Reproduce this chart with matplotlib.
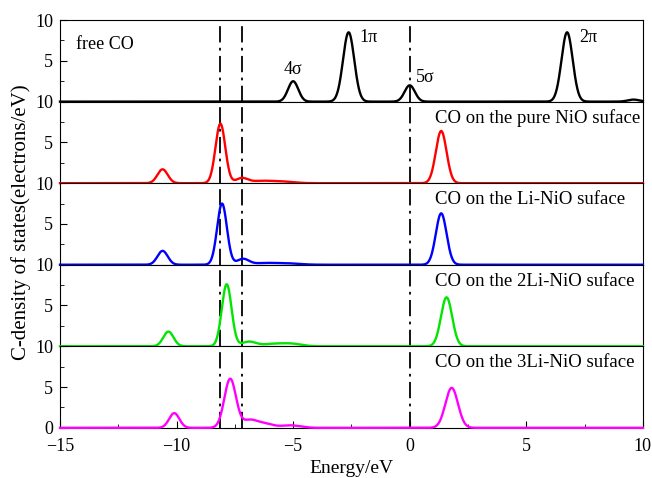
import numpy as np
import matplotlib.pyplot as plt
from matplotlib.ticker import MultipleLocator

plt.rcParams['font.family'] = ['Liberation Serif', 'DejaVu Serif']

# peak positions (eV), heights and widths
free_pos = [-5.0, -2.62, 0.0, 6.75, 9.6]
free_hgt = [2.5, 8.5, 2.0, 8.5, 0.25]
free_wid = [0.22, 0.24, 0.22, 0.24, 0.25]

pure_pos = [-10.6, -8.12, -7.2, -6.4, -5.5, 1.35]
pure_hgt = [1.7, 7.3, 0.6, 0.25, 0.2, 6.4]
pure_wid = [0.22, 0.21, 0.25, 0.45, 0.5, 0.23]

li_pos = [-10.6, -8.05, -7.15, -6.2, -5.2, 1.35]
li_hgt = [1.7, 7.5, 0.7, 0.2, 0.15, 6.3]
li_wid = [0.22, 0.21, 0.25, 0.5, 0.5, 0.23]

li2_pos = [-10.35, -7.85, -6.9, -5.8, -5.0, 1.58]
li2_hgt = [1.8, 7.6, 0.55, 0.3, 0.25, 6.0]
li2_wid = [0.22, 0.21, 0.3, 0.5, 0.4, 0.24]

li3_pos = [-10.1, -7.7, -6.9, -6.3, -5.1, 1.8]
li3_hgt = [1.8, 6.0, 0.8, 0.55, 0.3, 4.9]
li3_wid = [0.22, 0.25, 0.3, 0.4, 0.4, 0.27]

panels = [(free_pos, free_hgt, free_wid, 'black', 'free CO'),
          (pure_pos, pure_hgt, pure_wid, 'red', 'CO on the pure NiO suface'),
          (li_pos, li_hgt, li_wid, 'blue', 'CO on the Li-NiO suface'),
          (li2_pos, li2_hgt, li2_wid, '#00e600', 'CO on the 2Li-NiO suface'),
          (li3_pos, li3_hgt, li3_wid, 'magenta', 'CO on the 3Li-NiO suface')]

vlines = [-8.12, -7.2, 0.0]

E = np.linspace(-15, 10, 2501)


def dos(pos, hgt, wid):
    y = np.zeros_like(E)
    for p, h, w in zip(pos, hgt, wid):
        y += h * np.exp(-0.5 * ((E - p) / w) ** 2)
    return y


fig, axes = plt.subplots(5, 1, sharex=True, figsize=(6.52, 4.78), dpi=100)
fig.subplots_adjust(left=0.092, right=0.986, top=0.958, bottom=0.105, hspace=0)

for i, (ax, (pos, hgt, wid, col, lab)) in enumerate(zip(axes, panels)):
    ax.plot(E, dos(pos, hgt, wid), color=col, lw=1.7, zorder=3, clip_on=False)
    ax.set_xlim(-15, 10)
    ax.set_ylim(0, 10)
    ax.set_yticks([0, 5, 10])
    if i == 4:
        ax.set_yticklabels(['0', '5', '10'])
    else:
        ax.set_yticklabels(['', '5', '10'])
    ax.yaxis.set_minor_locator(MultipleLocator(2.5))
    ax.tick_params(axis='y', which='both', direction='in', labelsize=13, pad=5)
    ax.tick_params(axis='y', which='major', length=5)
    ax.tick_params(axis='y', which='minor', length=3)
    if i < 4:
        ax.tick_params(axis='x', which='both', bottom=False)
    for v in vlines:
        ax.axvline(v, color='black', lw=1.3, ls=(0, (9, 3, 1.5, 3)), zorder=2)
    if i == 0:
        ax.text(-14.3, 7.0, lab, fontsize=13, va='center')
    else:
        ax.text(1.1, 8.0, lab, fontsize=13.5, va='center')

axes[0].text(-5.0, 3.9, '4σ', fontsize=13, ha='center', va='center')
axes[0].text(-1.75, 7.9, '1π', fontsize=13, ha='center', va='center')
axes[0].text(0.65, 3.0, '5σ', fontsize=13, ha='center', va='center')
axes[0].text(7.65, 7.9, '2π', fontsize=13, ha='center', va='center')

ax = axes[-1]
ax.set_xticks([-15, -10, -5, 0, 5, 10])
ax.xaxis.set_minor_locator(MultipleLocator(2.5))
ax.tick_params(axis='x', which='both', direction='in', labelsize=13, pad=7)
ax.tick_params(axis='x', which='major', length=5)
ax.tick_params(axis='x', which='minor', length=3)
ax.set_xlabel('Energy/eV', fontsize=14, labelpad=4)

fig.text(0.033, 0.535, 'C-density of states(electrons/eV)', rotation=90,
         fontsize=15, ha='center', va='center')

fig.savefig('out.png', dpi=100)
